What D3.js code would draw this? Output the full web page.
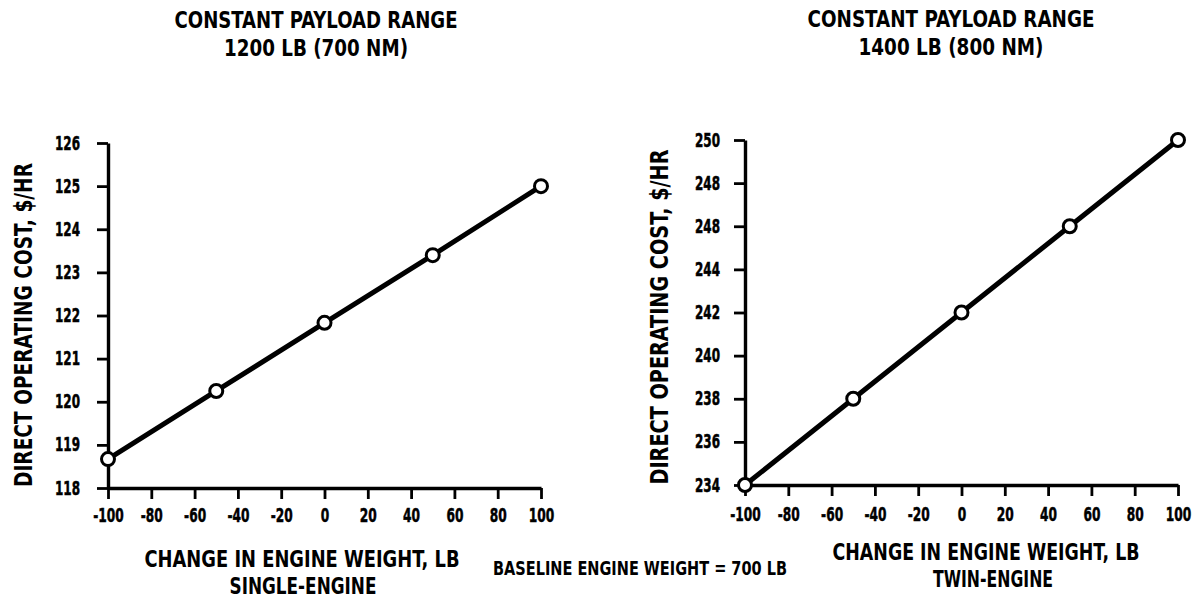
<!DOCTYPE html>
<html>
<head>
<meta charset="utf-8">
<script src="https://cdn.jsdelivr.net/npm/d3@7"></script>
<style>
	body { margin: 0; background: #fff; }
	svg text { font-family: "DejaVu Sans Condensed", "DejaVu Sans", sans-serif; font-weight: bold; fill: #000; }
</style>
</head>
<body>
<div class="chart"></div>
<script>
// values
const weightChange = [-100, -50, 0, 50, 100];
const singleCost = [118.67, 120.25, 121.83, 123.4, 125.0];
const twinCost = [234, 238, 242, 246, 250];

const xTicks = [-100, -80, -60, -40, -20, 0, 20, 40, 60, 80, 100];
const singleTicks = [118, 119, 120, 121, 122, 123, 124, 125, 126];
const twinTicks = [234, 236, 238, 240, 242, 244, 246, 248, 250];
// labels as printed in the reference (246 reads as 248)
const twinTickLabels = ['234', '236', '238', '240', '242', '244', '248', '248', '250'];

const width = 1200;
const height = 601;
const svg = d3.select('.chart')
	.append('svg')
	.attr('width', width)
	.attr('height', height);

// squeeze text horizontally to look like the condensed lettering of the scan
function fit(sel, w) {
	sel.attr('textLength', w).attr('lengthAdjust', 'spacingAndGlyphs');
}

function renderPanel(opt) {
	const x = d3.scaleLinear().domain([-100, 100]).range([opt.left, opt.right]);
	const y = d3.scaleLinear().domain(opt.yDomain).range([opt.bottom, opt.top]);
	const g = svg.append('g');

	const xAxis = g.append('g')
		.attr('transform', 'translate(0,' + opt.bottom + ')')
		.call(d3.axisBottom(x).tickValues(xTicks).tickSize(11).tickPadding(opt.xPad).tickSizeOuter(0)
			.tickFormat(d => String(d)));
	const yAxis = g.append('g')
		.attr('transform', 'translate(' + opt.left + ',0)')
		.call(d3.axisLeft(y).tickValues(opt.yTicks).tickSize(11).tickPadding(opt.yPad).tickSizeOuter(0)
			.tickFormat((d, i) => opt.yLabels[i]));

	g.selectAll('.domain').attr('stroke', '#000').attr('stroke-width', 3.4);
	g.selectAll('.tick line').attr('stroke', '#000').attr('stroke-width', 2.8);
	xAxis.selectAll('.tick text')
		.attr('font-size', '20px')
		.style('font-family', null)
		.attr('stroke', '#000').attr('stroke-width', 0.5)
		.attr('textLength', d => String(Math.abs(d)).length * 8.5 + (d < 0 ? 5 : 0))
		.attr('lengthAdjust', 'spacingAndGlyphs');
	yAxis.selectAll('.tick text')
		.attr('font-size', '19px')
		.style('font-family', null)
		.attr('stroke', '#000').attr('stroke-width', 0.5)
		.call(fit, 25);

	const line = d3.line()
		.x((d, i) => x(weightChange[i]))
		.y(d => y(d));
	g.append('path')
		.datum(opt.values)
		.attr('d', line)
		.attr('fill', 'none')
		.attr('stroke', '#000')
		.attr('stroke-width', 5);
	g.selectAll('.pt')
		.data(opt.values)
		.enter()
		.append('circle')
		.attr('class', 'pt')
		.attr('cx', (d, i) => x(weightChange[i]))
		.attr('cy', d => y(d))
		.attr('r', 6.5)
		.attr('fill', '#fff')
		.attr('stroke', '#000')
		.attr('stroke-width', 3);

	// titles
	g.selectAll('.title')
		.data(opt.title)
		.enter()
		.append('text')
		.attr('x', opt.titleX)
		.attr('y', (d, i) => opt.titleY + i * 28)
		.attr('text-anchor', 'middle')
		.attr('font-size', '23px')
		.attr('textLength', (d, i) => opt.titleW[i])
		.attr('lengthAdjust', 'spacingAndGlyphs')
		.text(d => d);

	g.selectAll('.xlabel')
		.data(opt.xLabel)
		.enter()
		.append('text')
		.attr('x', (d, i) => opt.xLabelX[i])
		.attr('y', (d, i) => opt.xLabelY + i * 27)
		.attr('text-anchor', 'middle')
		.attr('font-size', '23px')
		.attr('textLength', (d, i) => opt.xLabelW[i])
		.attr('lengthAdjust', 'spacingAndGlyphs')
		.text(d => d);

	g.append('text')
		.attr('transform', 'translate(' + opt.yLabelX + ',' + opt.yLabelY + ') rotate(-90)')
		.attr('text-anchor', 'middle')
		.attr('font-size', '25px')
		.text('DIRECT OPERATING COST, $/HR')
		.call(fit, opt.yLabelW);
}

renderPanel({
	left: 108, right: 541, top: 143, bottom: 488,
	yDomain: [118, 126], yTicks: singleTicks, yLabels: singleTicks.map(String), yPad: 17, xPad: 9,
	values: singleCost,
	title: ['CONSTANT PAYLOAD RANGE', '1200 LB (700 NM)'], titleX: 316, titleY: 28, titleW: [283, 184],
	xLabel: ['CHANGE IN ENGINE WEIGHT, LB', 'SINGLE-ENGINE'], xLabelX: [302, 303], xLabelY: 567, xLabelW: [315, 147],
	yLabelX: 32, yLabelY: 325, yLabelW: 324
});

renderPanel({
	left: 745, right: 1178, top: 140, bottom: 485,
	yDomain: [234, 250], yTicks: twinTicks, yLabels: twinTickLabels, yPad: 14, xPad: 11,
	values: twinCost,
	title: ['CONSTANT PAYLOAD RANGE', '1400 LB (800 NM)'], titleX: 951, titleY: 27, titleW: [287, 185],
	xLabel: ['CHANGE IN ENGINE WEIGHT, LB', 'TWIN-ENGINE'], xLabelX: [986, 993], xLabelY: 560, xLabelW: [307, 120],
	yLabelX: 668, yLabelY: 317, yLabelW: 335
});

svg.append('text')
	.attr('x', 640)
	.attr('y', 575)
	.attr('text-anchor', 'middle')
	.attr('font-size', '19px')
	.attr('textLength', 294)
	.attr('lengthAdjust', 'spacingAndGlyphs')
	.text('BASELINE ENGINE WEIGHT = 700 LB');
</script>
</body>
</html>
